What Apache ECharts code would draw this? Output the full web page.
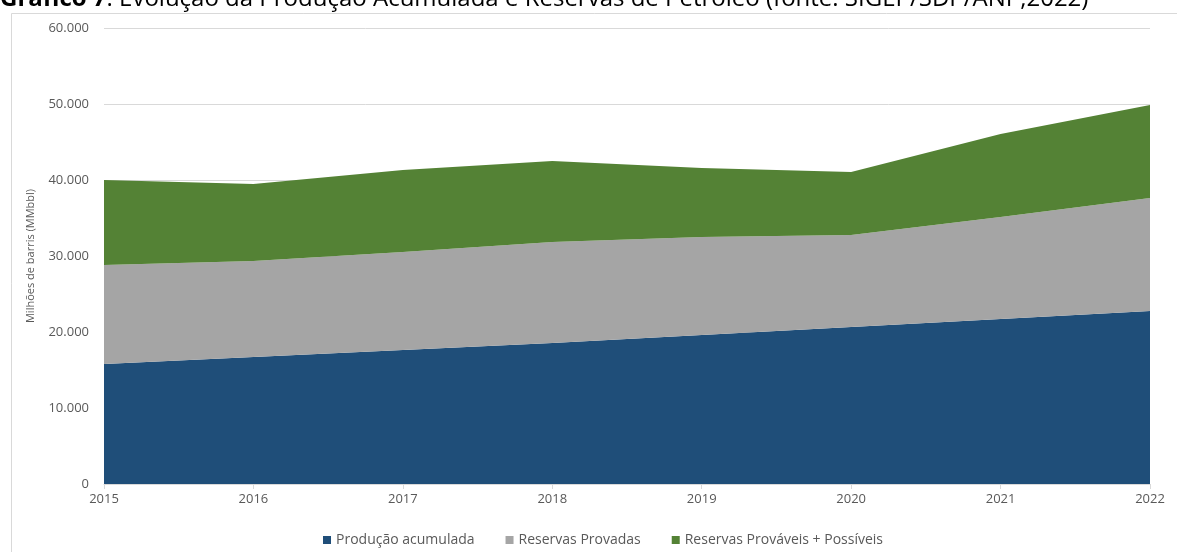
<!DOCTYPE html>
<html>
<head>
<meta charset="utf-8">
<script src="https://cdn.jsdelivr.net/npm/echarts@6/dist/echarts.min.js"></script>
<style>
html,body{margin:0;padding:0;background:#fff;}
#c{width:1177px;height:552px;}
</style>
</head>
<body>
<div id="c"></div>
<script>
const categories = ['2015','2016','2017','2018','2019','2020','2021','2022'];
const producaoAcumulada = [15790, 16710, 17630, 18550, 19600, 20660, 21710, 22760];
const reservasProvadas = [13030, 12630, 12900, 13290, 12900, 12100, 13420, 14870];
const reservasProvaveisPossiveis = [11180, 10130, 10790, 10660, 9080, 8290, 10920, 12240];
const seriesNames = ['Produção acumulada', 'Reservas Provadas', 'Reservas Prováveis + Possíveis'];
const yTicks = [0, 10000, 20000, 30000, 40000, 50000, 60000];

const FONT = '"Open Sans", sans-serif';
const chart = echarts.init(document.getElementById('c'), null, {renderer: 'canvas'});
function fmt(v){ return String(v).replace(/\B(?=(\d{3})+(?!\d))/g, '.'); }
const colors = ['#1F4E79', '#A5A5A5', '#548235'];
const dataArr = [producaoAcumulada, reservasProvadas, reservasProvaveisPossiveis];

chart.setOption({
  animation: false,
  backgroundColor: '#fff',
  graphic: [
    {type: 'rect', left: 9, top: 11, silent: true,
     shape: {x: 0, y: 0, width: 1200, height: 600},
     style: {fill: 'none', stroke: '#d9d9d9', lineWidth: 1}},
    {type: 'text', left: 0, top: -13, silent: true,
     style: {rich: {b: {fontWeight: 'bold', fontSize: 24, fontFamily: FONT, fill: '#000'},
                    n: {fontSize: 24, fontFamily: FONT, fill: '#000'}},
             text: '{b|Gráfico 7}{n|: Evolução da Produção Acumulada e Reservas de Petróleo (fonte: SIGEP/SDP/ANP,2022)}'}}
  ],
  grid: {left: 104, right: 27, top: 28, bottom: 68, containLabel: false},
  legend: {
    left: 318, top: 528, icon: 'rect', itemWidth: 8, itemHeight: 8, itemGap: 31,
    textStyle: {color: '#595959', fontSize: 14, fontFamily: FONT},
    data: seriesNames
  },
  xAxis: {
    type: 'category', data: categories, boundaryGap: false,
    axisLine: {lineStyle: {color: '#d9d9d9'}},
    axisTick: {show: true, length: 5, lineStyle: {color: '#d9d9d9'}},
    axisLabel: {color: '#595959', fontSize: 13, fontFamily: FONT, margin: 9}
  },
  yAxis: {
    type: 'value', min: yTicks[0], max: yTicks[yTicks.length-1], interval: 10000,
    name: 'Milhões de barris (MMbbl)', nameLocation: 'middle', nameGap: 68, nameRotate: 90,
    nameTextStyle: {color: '#595959', fontSize: 11, fontFamily: FONT},
    axisLine: {show: false}, axisTick: {show: false},
    splitLine: {lineStyle: {color: '#d9d9d9', width: 1}},
    axisLabel: {color: '#595959', fontSize: 13, fontFamily: FONT, margin: 15, formatter: fmt}
  },
  series: seriesNames.map((n, i) => ({
    name: n, type: 'line', stack: 'total', data: dataArr[i],
    symbol: 'none', lineStyle: {width: 0}, itemStyle: {color: colors[i]},
    areaStyle: {color: colors[i], opacity: 1}
  }))
});
</script>
</body>
</html>
